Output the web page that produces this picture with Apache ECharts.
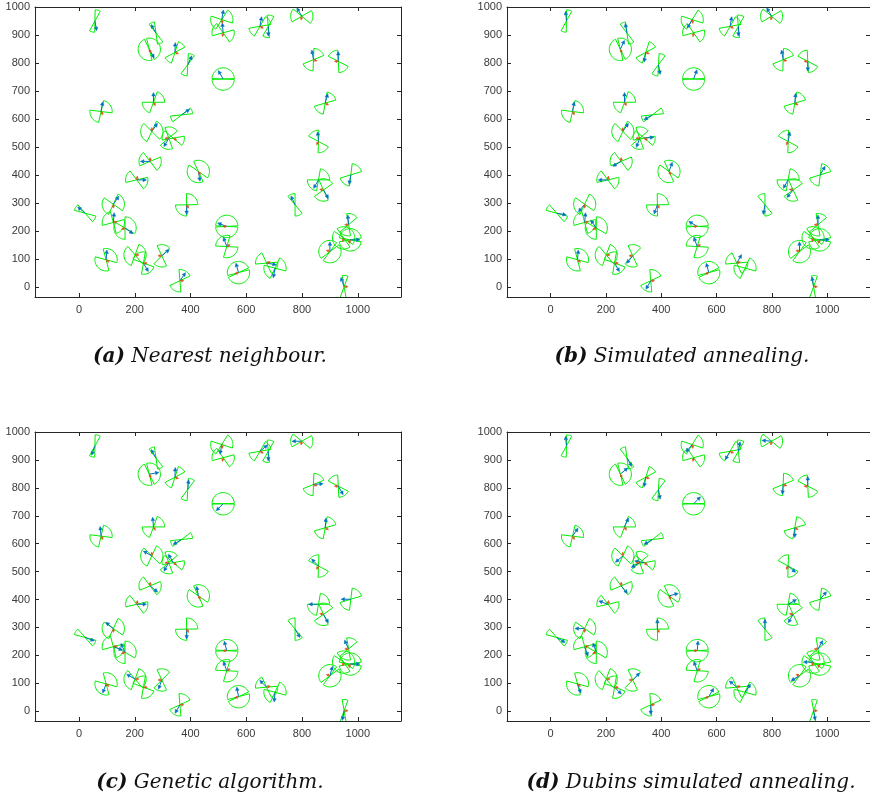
<!DOCTYPE html>
<html>
<head>
<meta charset="utf-8">
<script src="https://cdn.jsdelivr.net/npm/echarts@6/dist/echarts.min.js"></script>
<style>
  html, body { margin: 0; padding: 0; background: #ffffff; }
  #chart { width: 870px; height: 802px; }
</style>
</head>
<body>
<div id="chart"></div>
<script>
// ---- Sensor positions and their bow-tie sensing regions (shared by all four routes) ----
const sensorX = [57, 276, 252, 344, 390, 517, 512, 517, 649, 679, 799, 841, 930, 883, 79, 267,
  368, 261, 322, 338, 255, 207, 428, 123, 22, 386, 123, 165, 530, 530, 572, 673, 703, 951, 967,
  949, 973, 900, 859, 877, 775, 975, 859, 362, 297, 201, 231, 97];
const sensorY = [950, 907, 849, 838, 794, 743, 955, 908, 931, 931, 967, 812, 806, 657, 627, 660,
  615, 556, 532, 532, 449, 383, 413, 296, 264, 294, 231, 211, 217, 145, 52, 86, 68, 2, 223,
  176, 169, 127, 383, 347, 294, 401, 520, 23, 112, 115, 86, 98];
// beam axis direction (deg) and half-opening (deg)
const beamAxis = [75, 113, 20, 50, 70, 90, 20, -20, 35, 78, -5, 55, 123, 48, 35, 35, 22, 10, 75,
  -15, -15, -20, 40, 15, -32, 46, 150, 30, 90, 125, 110, -30, 25, 85, 70, 45, 90, 135, 40, 75,
  110, 50, 120, 60, 80, 10, -60, 45];
const beamHalf = [14, 15, 84, 22, 17, 88, 38, 35, 25, 18, 35, 33, 30, 32, 42, 35, 16, 55, 35, 25,
  38, 33, 75, 50, 17, 45, 45, 60, 87, 52, 85, 35, 40, 15, 30, 80, 80, 82, 40, 40, 20, 33, 32,
  35, 35, 60, 40, 60];
const sensorRange = 40;

// target drift direction (deg), red markers
const driftAngle = [null, null, -65, -20, null, null, -80, -100, -30, null, -100, -20, 180, -30,
  -60, -60, null, 90, 180, -30, 90, 80, -60, -90, null, -60, 10, 200, 180, 30, 200, 20, null, 0,
  180, -100, -110, 160, null, 170, null, null, -120, 0, 180, 0, 0, -40];

// visiting headings (deg), blue arrows, one list per planner
const headingNN = [-80, 120, -60, 88, 65, 120, 80, 95, 80, -90, 120, 100, 90, 75, 80, 90, 35, 55,
  -120, null, 180, 0, -80, 55, 140, -90, 85, -35, 160, 110, 105, -10, -100, 110, 95, null, 0, 90,
  -120, -60, 115, -100, 95, 55, 40, null, -60, 85];
const headingSA = [95, 100, 65, -100, -80, 70, -120, null, 80, -90, 120, 100, -90, 85, 80, 90,
  -150, 55, -110, 5, -150, 180, 70, -130, -10, -110, 85, 125, 150, 110, 105, 60, null, 100, 90,
  null, 0, 90, -120, -130, -100, 60, 80, -120, -130, null, -60, 85];
const headingGA = [-110, 120, 10, 88, 85, -135, -100, null, 40, -90, 180, 5, -60, 85, 95, 95,
  -150, 150, -120, 120, -40, 0, 100, 140, -20, -90, -20, 115, 105, 110, 100, 135, -95, -100, 115,
  null, 0, 75, 180, -60, -60, 180, 135, -120, -110, 150, null, -110];
const headingDSA = [95, -60, 40, -100, -80, 45, -130, null, -120, 80, 175, -95, 90, -90, 55, 65,
  -150, -140, -150, 170, -50, 160, 15, 180, -30, 90, -70, 110, 85, 110, 60, 140, 55, -80, 60, 180,
  null, -150, 30, -120, 90, 50, -40, -90, 45, null, -45, -70];

const headingLen = 35;
const driftLen = 14;

// ---- Axes ----
const xTicks = [0, 200, 400, 600, 800, 1000];
const yTicks = [0, 100, 200, 300, 400, 500, 600, 700, 800, 900, 1000];
const xRange = [-158, 1155];
const yRange = [-35, 1000];

const captions = [
  ['(a)', 'Nearest neighbour.'],
  ['(b)', 'Simulated annealing.'],
  ['(c)', 'Genetic algorithm.'],
  ['(d)', 'Dubins simulated annealing.']
];
const headings = [headingNN, headingSA, headingGA, headingDSA];

// ---- Layout ----
const panels = [
  { left: 35, top: 7, width: 366, height: 290, capX: 210, capY: 357 },
  { left: 507, top: 7, width: 366, height: 290, capX: 682, capY: 357 },
  { left: 35, top: 432, width: 366, height: 289, capX: 210, capY: 783 },
  { left: 507, top: 432, width: 366, height: 289, capX: 691, capY: 783 }
];

const GREEN = '#00ee00';
const BLUE = '#0072BD';
const RED = '#D95319';
const AXIS = '#262626';
const LABEL = '#3a3a3a';

const deg = Math.PI / 180;

function renderBeams(params, api) {
  const cx = api.value(0), cy = api.value(1), axis = api.value(2), half = api.value(3);
  const children = [];
  [axis, axis + 180].forEach(function (dir) {
    const pts = [api.coord([cx, cy])];
    const n = Math.max(6, Math.ceil(half / 3));
    for (let k = 0; k <= n; k++) {
      const a = (dir - half + 2 * half * k / n) * deg;
      pts.push(api.coord([cx + sensorRange * Math.cos(a), cy + sensorRange * Math.sin(a)]));
    }
    children.push({
      type: 'polygon',
      shape: { points: pts },
      style: { fill: 'none', stroke: GREEN, lineWidth: 1 }
    });
  });
  return { type: 'group', children: children };
}

function arrowRenderer(color, len, head, width) {
  return function (params, api) {
    const cx = api.value(0), cy = api.value(1), a = api.value(2) * deg;
    const p0 = api.coord([cx, cy]);
    const p1 = api.coord([cx + len * Math.cos(a), cy + len * Math.sin(a)]);
    const dx = p1[0] - p0[0], dy = p1[1] - p0[1];
    const L = Math.hypot(dx, dy) || 1;
    const ux = dx / L, uy = dy / L;
    const base = [p1[0] - ux * head, p1[1] - uy * head];
    const w = head * 0.5;
    return {
      type: 'group',
      children: [
        { type: 'line', shape: { x1: p0[0], y1: p0[1], x2: base[0], y2: base[1] },
          style: { stroke: color, lineWidth: width } },
        { type: 'polygon',
          shape: { points: [p1, [base[0] - uy * w, base[1] + ux * w], [base[0] + uy * w, base[1] - ux * w]] },
          style: { fill: color, stroke: color, lineWidth: 0.5 } }
      ]
    };
  };
}

function pointsWithAngle(angles) {
  const out = [];
  angles.forEach(function (a, i) {
    if (a !== null) out.push([sensorX[i], sensorY[i], a]);
  });
  return out;
}

const beamData = sensorX.map(function (x, i) { return [x, sensorY[i], beamAxis[i], beamHalf[i]]; });
const driftData = pointsWithAngle(driftAngle);
const plainNumber = function (v) { return String(v); };

const grids = [], xAxes = [], yAxes = [], series = [], graphics = [];

panels.forEach(function (p, i) {
  grids.push({ left: p.left, top: p.top, width: p.width, height: p.height, show: false });
  const tickStyle = { show: true, inside: true, length: 4, lineStyle: { color: AXIS, width: 1 } };
  xAxes.push({
    gridIndex: i, type: 'value', min: xRange[0], max: xRange[1], position: 'bottom',
    axisLine: { show: true, onZero: false, lineStyle: { color: AXIS, width: 1 } },
    axisTick: Object.assign({ customValues: xTicks }, tickStyle),
    axisLabel: { customValues: xTicks, formatter: plainNumber, color: LABEL, fontSize: 11,
      fontFamily: 'Liberation Sans', margin: 7 },
    splitLine: { show: false }
  });
  xAxes.push({
    gridIndex: i, type: 'value', min: xRange[0], max: xRange[1], position: 'top',
    axisLine: { show: true, onZero: false, lineStyle: { color: AXIS, width: 1 } },
    axisTick: Object.assign({ customValues: xTicks }, tickStyle),
    axisLabel: { show: false },
    splitLine: { show: false }
  });
  yAxes.push({
    gridIndex: i, type: 'value', min: yRange[0], max: yRange[1], position: 'left',
    axisLine: { show: true, onZero: false, lineStyle: { color: AXIS, width: 1 } },
    axisTick: Object.assign({ customValues: yTicks }, tickStyle),
    axisLabel: { customValues: yTicks, formatter: plainNumber, color: LABEL, fontSize: 11,
      fontFamily: 'Liberation Sans', margin: 5 },
    splitLine: { show: false }
  });
  yAxes.push({
    gridIndex: i, type: 'value', min: yRange[0], max: yRange[1], position: 'right',
    axisLine: { show: true, onZero: false, lineStyle: { color: AXIS, width: 1 } },
    axisTick: Object.assign({ customValues: yTicks }, tickStyle),
    axisLabel: { show: false },
    splitLine: { show: false }
  });

  series.push({
    type: 'custom', name: 'sensing', xAxisIndex: 2 * i, yAxisIndex: 2 * i,
    renderItem: renderBeams, data: beamData, clip: true, silent: true, animation: false
  });
  series.push({
    type: 'custom', name: 'heading', xAxisIndex: 2 * i, yAxisIndex: 2 * i,
    renderItem: arrowRenderer(BLUE, headingLen, 3.5, 1), data: pointsWithAngle(headings[i]),
    clip: true, silent: true, animation: false
  });
  series.push({
    type: 'custom', name: 'drift', xAxisIndex: 2 * i, yAxisIndex: 2 * i,
    renderItem: arrowRenderer(RED, driftLen, 2.5, 1), data: driftData,
    clip: true, silent: true, animation: false
  });

  graphics.push({
    type: 'text', x: p.capX, y: p.capY,
    style: {
      text: '{b|' + captions[i][0] + '} ' + captions[i][1],
      fontFamily: 'DejaVu Serif', fontStyle: 'italic', fontSize: 20, fill: '#111',
      align: 'center', verticalAlign: 'middle',
      rich: { b: { fontFamily: 'DejaVu Serif', fontStyle: 'italic', fontWeight: 'bold', fontSize: 20, fill: '#111' } }
    }
  });
});

const chart = echarts.init(document.getElementById('chart'));
chart.setOption({
  backgroundColor: '#ffffff',
  animation: false,
  grid: grids,
  xAxis: xAxes,
  yAxis: yAxes,
  series: series,
  graphic: graphics
});
</script>
</body>
</html>
